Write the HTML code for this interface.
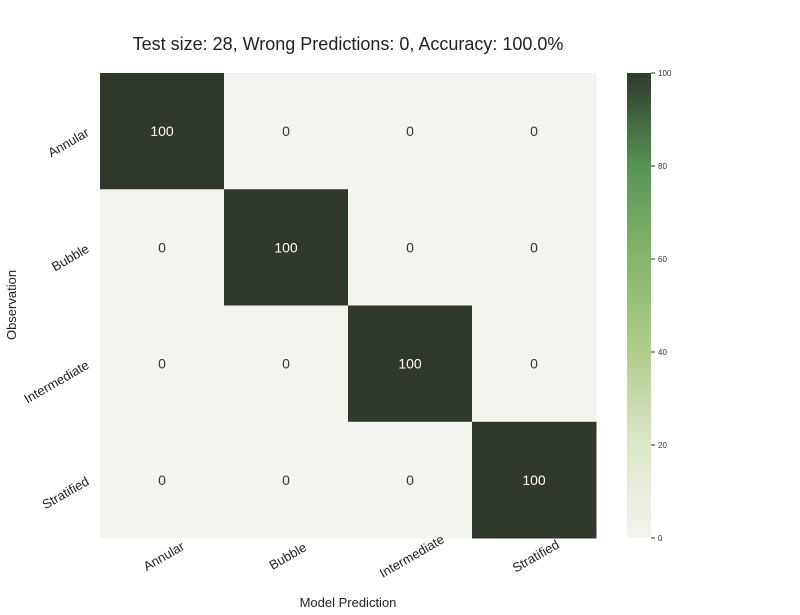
<!DOCTYPE html>
<html><head><meta charset="utf-8"><style>body{margin:0;background:#fff}svg{display:block;font-family:"Liberation Sans","DejaVu Sans",sans-serif}</style></head>
<body>
<svg id="c" width="800" height="615" viewBox="0 0 800 615" xmlns="http://www.w3.org/2000/svg">
<defs><linearGradient id="g" x1="0" y1="1" x2="0" y2="0">
<stop offset="0" stop-color="#f3f4ee"/><stop offset="0.2" stop-color="#dde6c8"/><stop offset="0.4" stop-color="#b0cd8c"/><stop offset="0.6" stop-color="#84b66a"/><stop offset="0.8" stop-color="#559553"/><stop offset="1" stop-color="#2f392b"/></linearGradient></defs>
<text x="348" y="50" font-size="18" text-anchor="middle" fill="#222">Test size: 28, Wrong Predictions: 0, Accuracy: 100.0%</text>
<g id="cells"></g>
<rect x="627" y="73" width="24" height="465" fill="url(#g)"/>
<g id="cb"></g>
<text x="348" y="607" font-size="13" text-anchor="middle" fill="#222">Model Prediction</text>
<text x="16" y="305" font-size="13" text-anchor="middle" fill="#222" transform="rotate(-90 16 305)">Observation</text>
</svg>
<script>
const categories = ["Annular","Bubble","Intermediate","Stratified"];
const values = [[100,0,0,0],[0,100,0,0],[0,0,100,0],[0,0,0,100]];
const cbTicks = [0,20,40,60,80,100];
const NS="http://www.w3.org/2000/svg";
const X0=100,X1=596,Y0=73,Y1=538,n=categories.length,cw=(X1-X0)/n,ch=(Y1-Y0)/n;
const xs=i=>X0+i*cw, ys=i=>Y0+i*ch, cbY=v=>538-v/100*465;
function col(v){const s=[[0,[243,244,238]],[20,[221,230,200]],[40,[176,205,140]],[60,[132,182,106]],[80,[85,149,83]],[100,[47,57,43]]];for(let k=1;k<s.length;k++){if(v<=s[k][0]){const t=(v-s[k-1][0])/20,a=s[k-1][1],b=s[k][1];return `rgb(${a.map((x,j)=>Math.round(x+(b[j]-x)*t)).join(',')})`;}}return 'rgb(47,57,43)';}
function mk(t,a,p){const e=document.createElementNS(NS,t);for(const k in a)e.setAttribute(k,a[k]);p.appendChild(e);return e;}
const svg=document.getElementById('c'),cells=document.getElementById('cells'),cb=document.getElementById('cb');
values.forEach((row,r)=>row.forEach((v,c)=>{
 const rc=mk('rect',{x:xs(c),y:ys(r),width:cw+0.5,height:ch+0.5,fill:col(v)},cells);
 
 
 const t=mk('text',{x:xs(c)+cw/2,y:ys(r)+ch/2+5,'font-size':14,'text-anchor':'middle',fill:v>50?'#fff':'#333'},cells);
 t.textContent=v;
 
 
}));
categories.forEach((c,i)=>{
 const cx=xs(i)+cw/2+4, cy=560;
 const t=mk('text',{x:cx,y:cy,'font-size':13,'text-anchor':'middle',fill:'#222',transform:`rotate(-30 ${cx} ${cy})`},svg);
 t.textContent=c;
 
 
 const ry=ys(i)+ch/2+4;
 const u=mk('text',{x:90,y:ry,'font-size':13,'text-anchor':'end',fill:'#222',transform:`rotate(-30 90 ${ry})`},svg);
 u.textContent=c;
 
 
});
cbTicks.forEach(v=>{
 const y=cbY(v);
 const l=mk('line',{x1:651,x2:655,y1:y,y2:y,stroke:'#333','stroke-width':1},cb);
 
 
 const t=mk('text',{x:658,y:y+3,'font-size':8,fill:'#333'},cb);
 t.textContent=v;
 
 
});
</script>
</body></html>
